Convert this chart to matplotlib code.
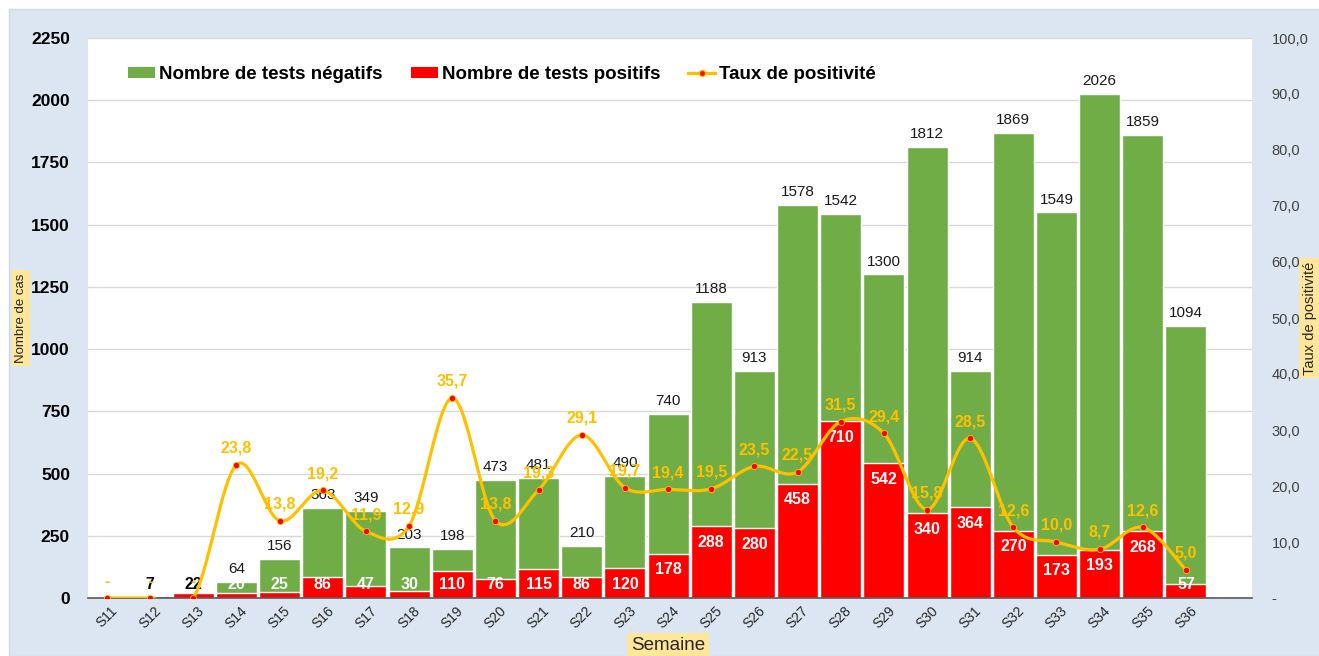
"""
Tests hebdomadaires : négatifs / positifs + taux de positivité (S11 à S36)
"""

import numpy as np
import matplotlib.pyplot as plt
from matplotlib.lines import Line2D
from matplotlib.patches import Patch, Rectangle

plt.rcParams['font.family'] = ['Liberation Sans', 'DejaVu Sans']

# ─────────────────────────────────────────────
# DONNÉES
# ─────────────────────────────────────────────
semaines = ["S11", "S12", "S13", "S14", "S15", "S16", "S17", "S18", "S19",
            "S20", "S21", "S22", "S23", "S24", "S25", "S26", "S27", "S28",
            "S29", "S30", "S31", "S32", "S33", "S34", "S35", "S36"]

negatifs = [0, 0, 0, 64, 156, 363, 349, 203, 198, 473, 481, 210, 490, 740,
            1188, 913, 1578, 1542, 1300, 1812, 914, 1869, 1549, 2026, 1859, 1094]

positifs = [4, 7, 22, 20, 25, 86, 47, 30, 110, 76, 115, 86, 120, 178,
            288, 280, 458, 710, 542, 340, 364, 270, 173, 193, 268, 57]

taux = [0, 0, 0, 23.8, 13.8, 19.2, 11.9, 12.9, 35.7, 13.8, 19.3, 29.1, 19.7,
        19.4, 19.5, 23.5, 22.5, 31.5, 29.4, 15.8, 28.5, 12.6, 10.0, 8.7, 12.6, 5.0]

VERT = "#70AD47"
ROUGE = "#FF0000"
ORANGE = "#FFC000"
FOND = "#DCE6F2"
JAUNE = "#FFE699"

W, H = 1319, 656


def lisse(x, y, n=30):
    """Courbe lissée façon Excel (Bézier / Catmull-Rom) passant par les points."""
    x = np.asarray(x, float)
    y = np.asarray(y, float)
    px = np.concatenate([[x[0]], x, [x[-1]]])
    py = np.concatenate([[y[0]], y, [y[-1]]])
    xs, ys = [], []
    t = np.linspace(0, 1, n)
    for i in range(1, len(x)):
        p0 = np.array([px[i], py[i]])
        p3 = np.array([px[i + 1], py[i + 1]])
        b1 = p0 + (p3 - np.array([px[i - 1], py[i - 1]])) / 6
        b2 = p3 - (np.array([px[i + 2], py[i + 2]]) - p0) / 6
        pts = (np.outer((1 - t) ** 3, p0) + np.outer(3 * (1 - t) ** 2 * t, b1)
               + np.outer(3 * (1 - t) * t ** 2, b2) + np.outer(t ** 3, p3))
        xs.append(pts[:, 0])
        ys.append(pts[:, 1])
    return np.concatenate(xs), np.concatenate(ys)


fig = plt.figure(figsize=(W / 100, H / 100), dpi=100)
fig.patch.set_facecolor("white")
fig.patches.append(Rectangle((9 / W, 0), 1, (H - 9) / H, transform=fig.transFigure,
                             facecolor=FOND, edgecolor="#D0D7E0", lw=1, zorder=-10))

ax = fig.add_axes([88 / W, (H - 598) / H, (1252 - 88) / W, (598 - 38) / H])
ax.set_facecolor("white")
x = np.arange(len(semaines))

ax.bar(x, negatifs, width=0.95, color=VERT, edgecolor="white", lw=1, zorder=2)
ax.bar(x, positifs, width=0.95, color=ROUGE, edgecolor="white", lw=1, zorder=3)

ax.set_xlim(-0.44, len(semaines) + 0.53)
ax.set_ylim(0, 2250)
ax.set_yticks(np.arange(0, 2251, 250))
ax.grid(axis="y", color="#D9D9D9", lw=1, zorder=0)
ax.set_axisbelow(True)
for s in ["top", "right", "left"]:
    ax.spines[s].set_visible(False)
ax.spines["bottom"].set_color("#595959")
ax.spines["bottom"].set_linewidth(1.2)
ax.spines["bottom"].set_zorder(5)
ax.tick_params(axis="y", length=0, labelsize=12.5, pad=13)
for lab in ax.get_yticklabels():
    lab.set_fontweight("bold")
ax.set_xticks(x)
ax.set_xticklabels(semaines, rotation=45, fontsize=10, color="#262626")
ax.tick_params(axis="x", length=0, pad=4)

# étiquettes des barres
for i, (n, p) in enumerate(zip(negatifs, positifs)):
    if n > 0:
        ax.text(i, n + 52, str(n), ha="center", va="center", fontsize=11,
                color="#1a1a1a", zorder=6)
    if p >= 5:
        coul = "white" if n > 0 else "black"
        ax.text(i, max(p - 64, 56), str(p), ha="center", va="center",
                fontsize=11.5, fontweight="bold", color=coul, zorder=6)

# taux de positivité (axe secondaire)
ax2 = ax.twinx()
ax2.set_ylim(0, 100)
ax2.set_yticks(np.arange(0, 101, 10))
ax2.set_yticklabels(["-"] + [f"{v:.1f}".replace(".", ",") for v in range(10, 101, 10)])
ax2.tick_params(axis="y", length=0, labelsize=10.5, colors="#404040", pad=14)
for s in ["top", "right", "left", "bottom"]:
    ax2.spines[s].set_visible(False)

xl, yl = lisse(x, taux)
ax2.plot(xl, yl, color=ORANGE, lw=2.3, zorder=7, solid_capstyle="round")
ax2.plot(x, taux, ls="none", marker="o", ms=4.5, mfc=ROUGE, mec=ORANGE, mew=0.6, zorder=8)
for i, t in enumerate(taux):
    txt = f"{t:.1f}".replace(".", ",") if t > 0 else "-"
    ax2.text(i, t + 3.0, txt, ha="center", va="center", fontsize=11.5,
             fontweight="bold", color=ORANGE, zorder=9)

# titres d'axes dans des cadres jaunes
fig.text(21 / W, (H - 318) / H, "Nombre de cas", rotation=90, ha="center",
         va="center", fontsize=9.5, color="#262626",
         bbox=dict(boxstyle="square,pad=0.25", fc=JAUNE, ec="none"))
fig.text(1310 / W, (H - 318) / H, "Taux de positivité", rotation=90, ha="center",
         va="center", fontsize=10.5, color="#262626",
         bbox=dict(boxstyle="square,pad=0.25", fc=JAUNE, ec="none"))
fig.text(668 / W, (H - 645) / H, "Semaine", ha="center", va="center",
         fontsize=13.5, color="#262626",
         bbox=dict(boxstyle="square,pad=0.2", fc=JAUNE, ec="none"))

# légende
poignees = [Patch(facecolor=VERT, edgecolor="none"),
            Patch(facecolor=ROUGE, edgecolor="none"),
            Line2D([0], [0], color=ORANGE, lw=2.3, marker="o", ms=4.5,
                   mfc=ROUGE, mec=ORANGE)]
noms = ["Nombre de tests négatifs", "Nombre de tests positifs", "Taux de positivité"]
leg = ax2.legend(poignees, noms, loc="upper left", bbox_to_anchor=(0.02, 0.98),
                 ncol=3, frameon=False, prop=dict(size=13.5, weight="bold"),
                 handlelength=1.45, handleheight=0.5, columnspacing=1.5,
                 handletextpad=0.2)

fig.savefig("out.png", dpi=100)
